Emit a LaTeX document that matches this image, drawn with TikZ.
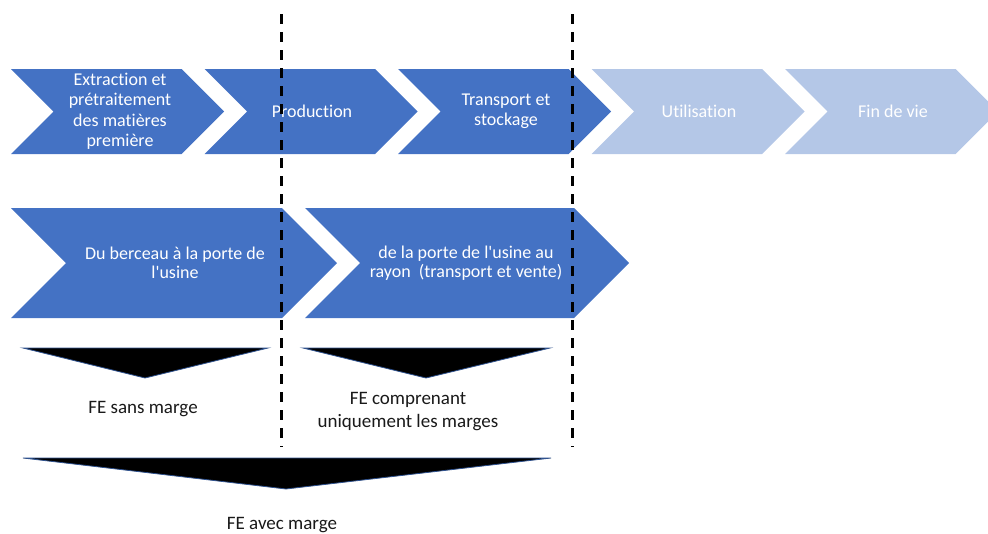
\documentclass[tikz,border=0pt]{standalone}
\usepackage{fontspec}
\setmainfont{Carlito}[Ligatures={NoCommon}]
\usepackage{xcolor}
\definecolor{stepblue}{HTML}{4472C4}
\definecolor{steppale}{HTML}{B4C7E7}
\definecolor{edgeblue}{HTML}{2F528F}

\begin{document}
\begin{tikzpicture}[x=1pt,y=-1pt,
    darkstep/.style={fill=stepblue},
    palestep/.style={fill=steppale},
    steplabel/.style={text=white,align=center,inner sep=0pt,font=\fontsize{18}{20.5}\selectfont},
    phaselabel/.style={text=white,align=center,inner sep=0pt,font=\fontsize{18}{18.5}\selectfont},
    felabel/.style={text=black!90,align=center,inner sep=0pt,font=\fontsize{19}{23}\selectfont},
    fearrow/.style={fill=black,draw=edgeblue,line width=0.8pt},
    cutline/.style={black,line width=3pt,dash pattern=on 10pt off 8pt}]
    \useasboundingbox (0,0) rectangle (988,533);

    % life cycle steps
    \fill[darkstep] (11,69)--(181.5,69)--(224,111.5)--(181.5,154)--(11,154)--(53.5,111.5)--cycle;
    \fill[darkstep] (204.5,69)--(375,69)--(417.5,111.5)--(375,154)--(204.5,154)--(247,111.5)--cycle;
    \fill[darkstep] (398,69)--(568.5,69)--(611,111.5)--(568.5,154)--(398,154)--(440.5,111.5)--cycle;
    \fill[palestep] (591.5,69)--(762,69)--(804.5,111.5)--(762,154)--(591.5,154)--(634,111.5)--cycle;
    \fill[palestep] (785,69)--(955.5,69)--(998,111.5)--(955.5,154)--(785,154)--(827.5,111.5)--cycle;
    \node[steplabel] (extraction) at (120,111.5) {Extraction et\\prétraitement\\des matières\\première};
    \node[steplabel] (production) at (312,111.5) {Production};
    \node[steplabel] (transport) at (506,111.5) {Transport et\\stockage};
    \node[steplabel] (utilisation) at (699,111.5) {Utilisation};
    \node[steplabel] (finvie) at (893,111.5) {Fin de vie};

    % phases
    \fill[darkstep] (11,208)--(282,208)--(337,263)--(282,318)--(11,318)--(66,263)--cycle;
    \fill[darkstep] (305,208)--(574,208)--(629,263)--(574,318)--(305,318)--(360,263)--cycle;
    \node[phaselabel] (berceau) at (175,263) {Du berceau à la porte de\\l\textquotesingle usine};
    \node[phaselabel] (rayon) at (466,263) {de la porte de l\textquotesingle usine au\\rayon\ \ (transport et vente)};

    % limits
    \coordinate (usine top) at (281,14);
    \coordinate (usine bottom) at (281,447);
    \coordinate (rayon top) at (572,14);
    \coordinate (rayon bottom) at (572,447);
    \draw[cutline] (usine top)--(usine bottom);
    \draw[cutline] (rayon top)--(rayon bottom);

    % emission factors
    \draw[fearrow] (23,348)--(268,348)--(145,378)--cycle;
    \draw[fearrow] (303,348)--(550,348)--(426,378)--cycle;
    \draw[fearrow] (23,458)--(551,458)--(286,489)--cycle;
    \node[felabel] (sansmarge) at (143,409) {FE sans marge};
    \node[felabel] (marges) at (408,412) {FE comprenant\\uniquement les marges};
    \node[felabel] (avecmarge) at (282,525) {FE avec marge};

\end{tikzpicture}
\end{document}
